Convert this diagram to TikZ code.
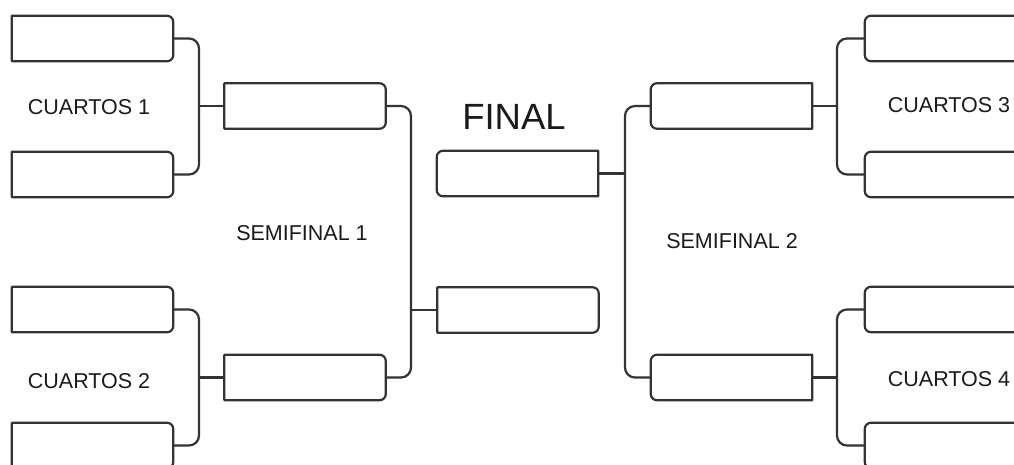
\documentclass[tikz,border=0pt]{standalone}
\usepackage{fontspec}
\setmainfont{Liberation Sans}
\newcommand\bxR[1]{\draw[boxline] (#1.north west) -- ([xshift=-6pt]#1.north east) arc[start angle=90,end angle=0,radius=6pt] -- ([yshift=6pt]#1.south east) arc[start angle=0,end angle=-90,radius=6pt] -- (#1.south west) -- cycle;}
\newcommand\bxL[1]{\draw[boxline] (#1.north east) -- ([xshift=6pt]#1.north west) arc[start angle=90,end angle=180,radius=6pt] -- ([yshift=6pt]#1.south west) arc[start angle=180,end angle=270,radius=6pt] -- (#1.south east) -- cycle;}
\definecolor{ln}{HTML}{333333}
\definecolor{tx}{HTML}{1A1A1A}
\tikzset{
  slot/.style={inner sep=0pt, minimum width=161pt, minimum height=45pt},
  boxline/.style={draw=ln, line width=2.2pt, fill=white, line join=round},
  conn/.style={draw=ln, line width=2.2pt, rounded corners=10pt},
  lab/.style={text=tx, font=\fontsize{21.5}{24}\selectfont, inner sep=0pt},
  big/.style={text=tx, font=\fontsize{36.5}{40}\selectfont, inner sep=0pt}
}
\begin{document}
\begin{tikzpicture}[x=1pt,y=1pt]
\useasboundingbox (0,0) rectangle (1014,464);
\clip (0,0) rectangle (1014,464);
% y' = 464 - y
\node[slot] (q1a) at (92.5,425.5) {};
\node[slot] (q1b) at (92.5,289.5) {};
\node[slot] (q2a) at (92.5,154.5) {};
\node[slot] (q2b) at (92.5,18.5) {};
\node[slot] (s1a) at (305,358) {};
\node[slot] (s1b) at (305,86.5) {};
\node[slot] (f1) at (517.5,290.5) {};
\node[slot] (f2) at (518,154) {};
\node[slot] (s2a) at (731.5,358) {};
\node[slot] (s2b) at (731.5,86.5) {};
\node[slot] (q3a) at (945.5,425.5) {};
\node[slot] (q3b) at (945.5,289.5) {};
\node[slot] (q4a) at (945.5,154.5) {};
\node[slot] (q4b) at (945.5,18.5) {};
\coordinate (j1) at (199,358);
\coordinate (j2) at (199,86.5);
\coordinate (j3) at (411,154);
\coordinate (j4) at (625,290.5);
\coordinate (j5) at (837,358);
\coordinate (j6) at (837,86.5);
% connectors
\draw[conn] (q1a.east) -| (j1) |- (q1b.east);
\draw[conn] (q2a.east) -| (j2) |- (q2b.east);
\draw[conn] (s1a.east) -| (j3) |- (s1b.east);
\draw[conn] (s2a.west) -| (j4) |- (s2b.west);
\draw[conn] (q3a.west) -| (j5) |- (q3b.west);
\draw[conn] (q4a.west) -| (j6) |- (q4b.west);
\draw[conn] (j1) -- (s1a.west);
\draw[conn] (j2) -- (s1b.west);
\draw[conn] (j3) -- (f2.west);
\draw[conn] (f1.east) -- (j4);
\draw[conn] (s2a.east) -- (j5);
\draw[conn] (s2b.east) -- (j6);
% boxes
\bxR{q1a} \bxR{q1b} \bxR{q2a} \bxR{q2b}
\bxR{s1a} \bxR{s1b}
\bxL{f1} \bxR{f2}
\bxL{s2a} \bxL{s2b}
\bxL{q3a} \bxL{q3b} \bxL{q4a} \bxL{q4b}
% labels
\node[lab] (c1) at (89,357) {CUARTOS 1};
\node[lab] (c2) at (89,83) {CUARTOS 2};
\node[lab] (c3) at (949,359) {CUARTOS 3};
\node[lab] (c4) at (949,85) {CUARTOS 4};
\node[lab] (sm1) at (302,231) {SEMIFINAL 1};
\node[lab] (sm2) at (732,223) {SEMIFINAL 2};
\node[big] (fin) at (514,347) {FINAL};
\end{tikzpicture}
\end{document}
